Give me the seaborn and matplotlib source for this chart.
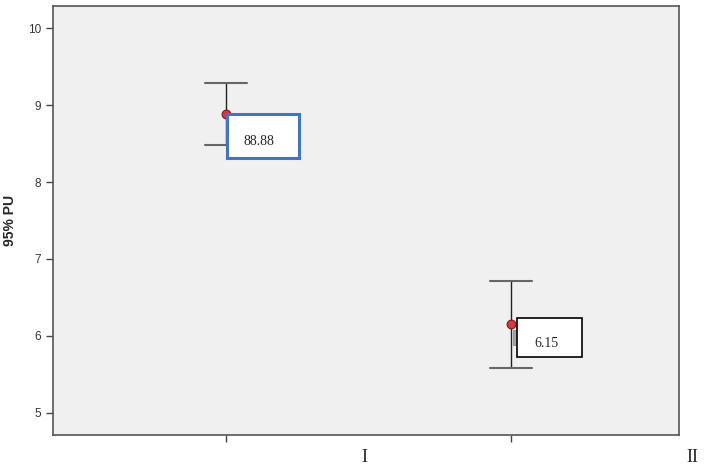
import numpy as np
import pandas as pd
import seaborn as sns
import matplotlib.pyplot as plt
from matplotlib.patches import Rectangle

# Values
groups = ["I", "II"]
means = [8.88, 6.15]
ci_low = [8.48, 5.58]
ci_high = [9.28, 6.72]
box_labels = ["88.88", "6.15"]
box_edge = ["#4472C4", "#000000"]
yticks = [5, 6, 7, 8, 9, 10]

df = pd.DataFrame({"group": groups, "pos": [0, 1], "mean": means,
                   "lo": ci_low, "hi": ci_high})

sns.set_style("white")
plt.rcParams["font.family"] = ["Liberation Sans", "DejaVu Sans"]

fig = plt.figure(figsize=(7.06, 4.71), dpi=100)
ax = fig.add_axes([53 / 706, 1 - 435 / 471, 626 / 706, 429 / 471])
ax.set_facecolor("#F0F0F0")

# error bars (precomputed 95% CI), caps drawn separately
yerr = np.array([df["mean"] - df["lo"], df["hi"] - df["mean"]])
ax.errorbar(df["pos"], df["mean"], yerr=yerr, fmt="none", ecolor="#222222",
            elinewidth=1.0, capsize=0, zorder=2)
for i, row in df.iterrows():
    ax.plot([row["pos"] - 0.074, row["pos"] + 0.074], [row["hi"]] * 2,
            color="#666666", lw=1.5, zorder=2)
    ax.plot([row["pos"] - 0.074, row["pos"] + 0.074], [row["lo"]] * 2,
            color="#666666", lw=1.5, zorder=2)

sns.scatterplot(data=df, x="pos", y="mean", ax=ax, color="#D9363E",
                edgecolor="#7A1E1E", linewidth=0.8, s=40, zorder=4, legend=False)

# small grey mark next to the second point
ax.add_patch(Rectangle((df["pos"][1] + 0.008, df["mean"][1] - 0.27), 0.012, 0.2,
                       facecolor="#A6A6A6", edgecolor="#808080", lw=0.5, zorder=3))

# label boxes
box_off = [(0.003, 0.0), (0.022, 0.09)]
box_size = [(0.253, 0.57), (0.228, 0.51)]
text_off = [(0.06, -0.36), (0.058, -0.34)]
for i, row in df.iterrows():
    bx = row["pos"] + box_off[i][0]
    by = row["mean"] + box_off[i][1]
    w, h = box_size[i]
    ax.add_patch(Rectangle((bx, by - h), w, h, facecolor="white",
                           edgecolor=box_edge[i], lw=2.2 if i == 0 else 1.2, zorder=5))
    ax.text(bx + text_off[i][0], by + text_off[i][1], box_labels[i],
            family=["Liberation Serif", "DejaVu Serif"], fontsize=10,
            va="center", ha="left", zorder=6)

ax.set_xlim(-0.607, 1.589)
ax.set_ylim(4.714, 10.286)
ax.set_yticks(yticks)
ax.set_yticklabels([str(t) for t in yticks], fontsize=8.5, color="#333333")
ax.set_xticks(df["pos"])
ax.set_xticklabels([])
ax.tick_params(axis="both", which="major", direction="out", length=5, width=1,
               color="#444444", left=True, bottom=True)
ax.set_ylabel("95% PU", fontsize=10, fontweight="bold", labelpad=8)
ax.set_xlabel("")

for s in ax.spines.values():
    s.set_color("#555555")
    s.set_linewidth(1.2)

# group names sit below the axis, away from the ticks
ax.text(0.498, -0.053, groups[0], transform=ax.transAxes, ha="center", va="center",
        family=["Liberation Serif", "DejaVu Serif"], fontsize=13)
ax.text(1.022, -0.053, groups[1], transform=ax.transAxes, ha="center", va="center",
        family=["Liberation Serif", "DejaVu Serif"], fontsize=13)

fig.savefig("out.png", dpi=100)
